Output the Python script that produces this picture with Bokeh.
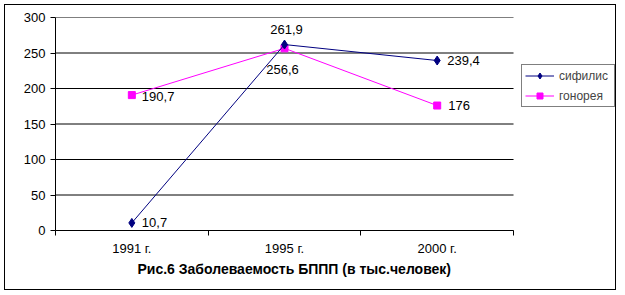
from bokeh.plotting import figure
from bokeh.models import (ColumnDataSource, FixedTicker, Legend, LegendItem, Title, Range1d)
from bokeh.core.properties import value
from bokeh.embed import file_html
from bokeh.resources import INLINE

years = ["1991 г.", "1995 г.", "2000 г."]
syphilis = [10.7, 261.9, 239.4]
gonorrhea = [190.7, 256.6, 176.0]
syph_text = ["10,7", "261,9", "239,4"]
gon_text = ["190,7", "256,6", "176"]
y_ticks = [0, 50, 100, 150, 200, 250, 300]
title_text = "Рис.6 Заболеваемость БППП (в тыс.человек)"

NAVY = "#000080"
MAGENTA = "#FF00FF"
FONT = "Liberation Sans"

n = len(years)
xs = [i + 0.5 for i in range(n)]

# plot area spans to the right edge so the legend (inside the frame) is not clipped;
# the x range is extended past the last category to leave room for it
p = figure(width=612, height=286, output_backend="svg", toolbar_location=None,
           x_range=Range1d(0, n * 1.227), y_range=Range1d(0, 300),
           min_border_left=50, min_border_right=0, min_border_top=12, min_border_bottom=61,
           background_fill_color="white", border_fill_color="white")
p.styles = {"border": "1px solid black", "margin-left": "4px", "margin-top": "4px"}
p.outline_line_color = None

# axes
p.xaxis.ticker = FixedTicker(ticks=xs, minor_ticks=list(range(n + 1)))
p.xaxis.bounds = (0, n)
p.xaxis.major_label_overrides = {x: y for x, y in zip(xs, years)}
p.xaxis.major_tick_out = 0
p.xaxis.major_tick_in = 0
p.xaxis.minor_tick_out = 5
p.xaxis.minor_tick_in = 0
p.xaxis.minor_tick_line_color = "black"
p.xaxis.axis_line_color = "black"
p.xaxis.major_label_standoff = 5
p.xaxis.major_label_text_font = FONT
p.xaxis.major_label_text_font_size = "13px"
p.xaxis.major_label_text_color = "black"

p.yaxis.ticker = FixedTicker(ticks=y_ticks)
p.yaxis.major_tick_out = 5
p.yaxis.major_tick_in = 0
p.yaxis.minor_tick_line_color = None
p.yaxis.axis_line_color = "black"
p.yaxis.major_tick_line_color = "black"
p.yaxis.major_label_standoff = 5
p.yaxis.major_label_text_font = FONT
p.yaxis.major_label_text_font_size = "13px"
p.yaxis.major_label_text_color = "black"

p.xgrid.grid_line_color = None
p.ygrid.grid_line_color = None
# horizontal grid lines limited to the category area
p.segment(x0=[0] * len(y_ticks), x1=[n] * len(y_ticks), y0=y_ticks, y1=y_ticks,
          line_color="black", line_width=1)

src_s = ColumnDataSource(dict(x=xs, y=syphilis, t=syph_text))
src_g = ColumnDataSource(dict(x=xs, y=gonorrhea, t=gon_text))

lg = p.line("x", "y", source=src_g, line_color=MAGENTA, line_width=1)
mg = p.scatter("x", "y", source=src_g, marker="square", size=7, fill_color=MAGENTA, line_color=MAGENTA)
ls = p.line("x", "y", source=src_s, line_color=NAVY, line_width=1)
ms = p.scatter("x", "y", source=src_s, marker="diamond", size=9, fill_color=NAVY, line_color=NAVY)

# data labels
s_align = ["left", "center", "left"]
s_base = ["middle", "bottom", "middle"]
s_dx = [10, 2, 10]
s_dy = [0, -11, 0]
g_align = ["left", "center", "left"]
g_base = ["middle", "top", "middle"]
g_dx = [10, -2, 11]
g_dy = [1, 17, 0]
src_s.data.update(align=s_align, base=s_base, dx=s_dx, dy=s_dy)
src_g.data.update(align=g_align, base=g_base, dx=g_dx, dy=g_dy)
for src in (src_s, src_g):
    p.text("x", "y", text="t", source=src, x_offset="dx", y_offset="dy",
           text_align="align", text_baseline="base", text_font=value(FONT),
           text_font_size="13px", text_color="black")

legend = Legend(items=[LegendItem(label="сифилис", renderers=[ls, ms]),
                       LegendItem(label="гонорея", renderers=[lg, mg])],
                location=(466, 123), border_line_color="black", border_line_width=1,
                label_text_font=FONT, label_text_font_size="12px",
                glyph_width=29, glyph_height=15, padding=3, spacing=5,
                label_standoff=5, label_width=52, label_height=15,
                background_fill_alpha=1.0, margin=0)
p.add_layout(legend)

p.add_layout(Title(text=title_text, align="left", offset=82, text_font=FONT,
                   text_font_size="14px", text_font_style="bold", text_color="black",
                   standoff=0), "below")

open("out.html", "w").write(file_html(p, INLINE))
